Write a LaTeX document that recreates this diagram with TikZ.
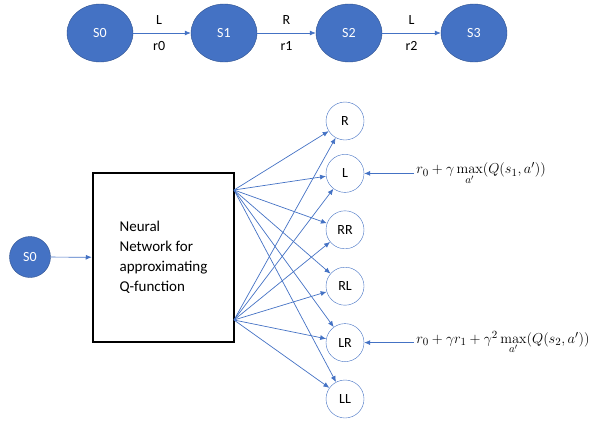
\documentclass[tikz,border=0pt]{standalone}
\usepackage[no-math]{fontspec}
\setmainfont{Carlito}
\usepackage{xcolor}
\usepackage{tikz}
\usetikzlibrary{arrows.meta,positioning,shapes.geometric}
\definecolor{stateBlue}{HTML}{4472C4}
\definecolor{stateEdge}{HTML}{2F528F}

\begin{document}
\begin{tikzpicture}[
  x=1pt, y=-1pt,
  node distance=18pt,
  font=\fontsize{14}{17}\selectfont,
  state/.style={ellipse, draw=stateEdge, fill=stateBlue, text=white, minimum width=66pt, minimum height=58pt, inner sep=0pt},
  input/.style={circle, draw=stateEdge, fill=stateBlue, text=white, minimum size=41pt, inner sep=0pt},
  action/.style={circle, draw=stateBlue, fill=white, minimum size=38pt, inner sep=0pt},
  network/.style={draw, line width=2.5pt, minimum width=141pt, minimum height=169pt, align=left, font=\fontsize{15}{20}\selectfont},
  target/.style={inner sep=2pt, font=\fontsize{15.5}{18}\selectfont},
  edgelabel/.style={text=black},
  arrow/.style={-{Latex[length=6pt,width=5pt]}, stateBlue, line width=0.7pt}
]
\useasboundingbox (0,0) rectangle (612,423);
\node[state] (s0) at (100,33) {S0};
\node[state] (s1) at (224,33) {S1};
\node[state] (s2) at (349,33) {S2};
\node[state] (s3) at (474,33) {S3};
\draw[arrow] (s0) -- node[edgelabel, above=5pt, pos=0.45] {L} node[edgelabel, below=5pt, pos=0.45] {r0} (s1);
\draw[arrow] (s1) -- node[edgelabel, above=5pt, pos=0.5] {R} node[edgelabel, below=5pt, pos=0.5] {r1} (s2);
\draw[arrow] (s2) -- node[edgelabel, above=5pt, pos=0.5] {L} node[edgelabel, below=5pt, pos=0.5] {r2} (s3);

\node[input] (in) at (30,257) {S0};
\node[network] (nn) at (163.5,257.5) {Neural\\Network for\\approximating\\Q-function};
\draw[arrow] (in) -- (nn);
\coordinate (nnUp) at (234,190);
\coordinate (nnLow) at (234,320);

\node[action] (aR) at (345,121) {R};
\node[action] (aL) [below=14pt of aR] {L};
\node[action] (aRR) [below=of aL] {RR};
\node[action] (aRL) [below=of aRR] {RL};
\node[action] (aLR) [below=of aRL] {LR};
\node[action] (aLL) [below=of aLR] {LL};

\draw[arrow] (nnUp) -- (aR);
\draw[arrow] (nnUp) -- (aL);
\draw[arrow] (nnUp) -- (aRR);
\draw[arrow] (nnUp) -- (aRL);
\draw[arrow] (nnUp) -- (aLR);
\draw[arrow] (nnUp) -- (aLL);
\draw[arrow] (nnLow) -- (aR);
\draw[arrow] (nnLow) -- (aL);
\draw[arrow] (nnLow) -- (aRR);
\draw[arrow] (nnLow) -- (aRL);
\draw[arrow] (nnLow) -- (aLR);
\draw[arrow] (nnLow) -- (aLL);

\node[target] (tgtOne) [right=50pt of aL] {$r_0+\gamma\max\limits_{a'}(Q(s_1,a'))$};
\node[target] (tgtTwo) [right=50pt of aLR] {$r_0+\gamma r_1+\gamma^2\max\limits_{a'}(Q(s_2,a'))$};
\draw[arrow] (tgtOne) -- (aL);
\draw[arrow] (tgtTwo) -- (aLR);
\end{tikzpicture}
\end{document}
